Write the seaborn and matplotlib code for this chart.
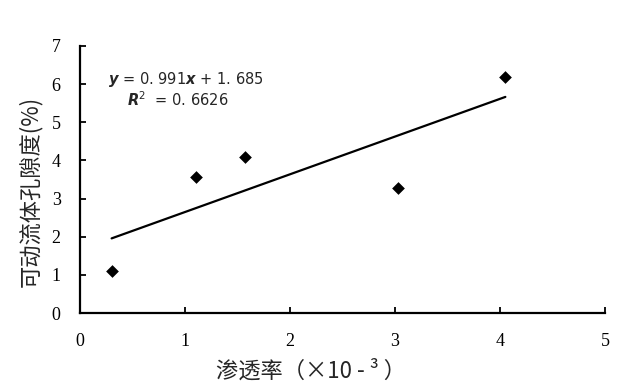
import numpy as np
import pandas as pd
import matplotlib
matplotlib.use("Agg")
import matplotlib.pyplot as plt
import seaborn as sns

# permeability (x10^-3) and movable fluid porosity (%)
permeability = [0.30, 1.10, 1.57, 3.03, 4.05]
porosity = [1.10, 3.57, 4.10, 3.28, 6.19]
x_ticks = [0, 1, 2, 3, 4, 5]
y_ticks = [0, 1, 2, 3, 4, 5, 6, 7]

df = pd.DataFrame({"k": permeability, "phi": porosity})

sns.set_theme(style="ticks")
plt.rcParams["font.family"] = ["Liberation Serif", "Noto Sans CJK SC"]

fig = plt.figure(figsize=(6.41, 3.89), dpi=100)
ax = fig.add_axes([0.125, 0.195, 0.819, 0.687])

sns.regplot(data=df, x="k", y="phi", ax=ax, ci=None, truncate=True,
            marker="D", color="black",
            scatter_kws={"s": 42, "alpha": 1, "edgecolor": "black", "linewidths": 0},
            line_kws={"linewidth": 1.6, "color": "black"})

ax.set_xlim(0, 5)
ax.set_ylim(0, 7)
ax.set_xticks(x_ticks)
ax.set_yticks(y_ticks)
ax.tick_params(direction="in", length=4, width=1.3, labelsize=13, colors="black")
ax.tick_params(axis="x", pad=14)
ax.tick_params(axis="y", pad=14)
for s in ["top", "right"]:
    ax.spines[s].set_visible(False)
for s in ["left", "bottom"]:
    ax.spines[s].set_linewidth(1.6)
    ax.spines[s].set_color("black")

cjk = ["Noto Sans CJK SC", "DejaVu Sans"]
ax.set_xlabel("渗透率（×10 - ³ ）", fontsize=16, family=cjk)
ax.set_ylabel("可动流体孔隙度(%)", fontsize=16, family=cjk)
ax.xaxis.set_label_coords(0.44, -0.175)
ax.yaxis.set_label_coords(-0.073, 0.457)

ax.text(0.053, 0.873, r"$\mathbfit{y}$ = 0. 991$\mathbfit{x}$ + 1. 685", transform=ax.transAxes,
        fontsize=10.5, family=["DejaVu Sans"], va="center")
ax.text(0.09, 0.80, r"$\mathbfit{R}^2$  = 0. 6626", transform=ax.transAxes,
        fontsize=10.5, family=["DejaVu Sans"], va="center")

fig.savefig("out.png", dpi=100)
